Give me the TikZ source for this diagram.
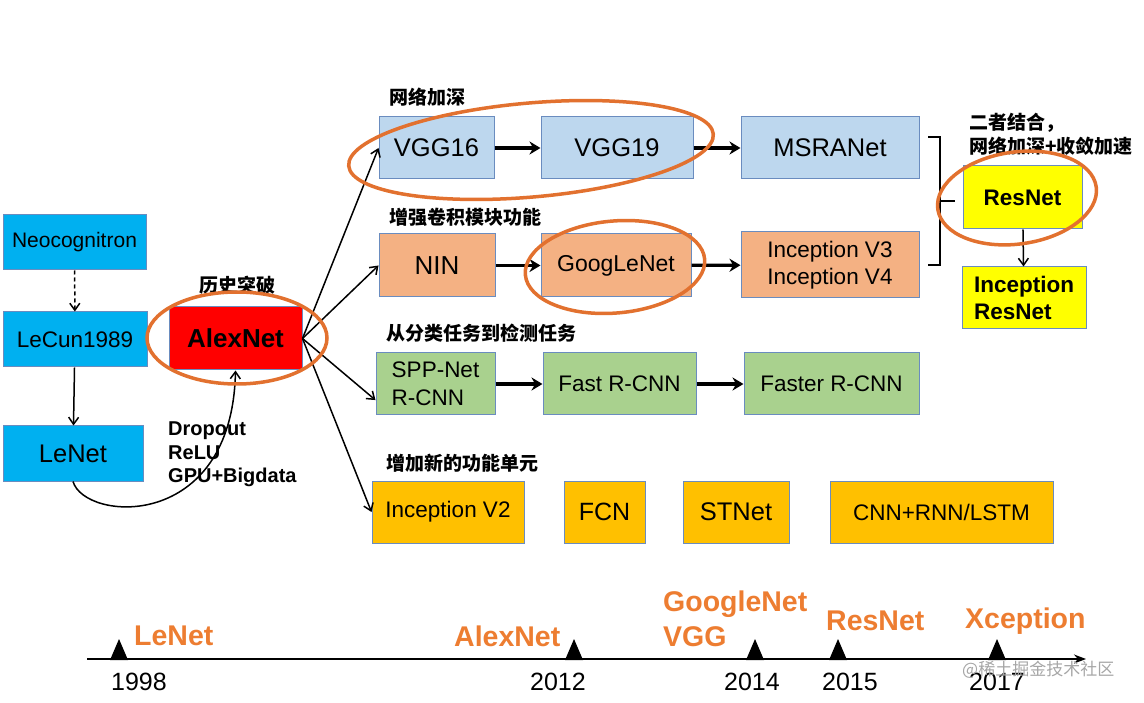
\documentclass[tikz,border=0pt]{standalone}
\usepackage{fontspec}
\setmainfont{Liberation Sans}
\newfontfamily\cjk{Noto Sans CJK SC}
\usetikzlibrary{arrows.meta}
\definecolor{cyanbox}{HTML}{00B0F0}
\definecolor{bluebox}{HTML}{BDD7EE}
\definecolor{salmonbox}{HTML}{F4B183}
\definecolor{greenbox}{HTML}{A9D18E}
\definecolor{goldbox}{HTML}{FFC000}
\definecolor{yellowbox}{HTML}{FFFF00}
\definecolor{redbox}{HTML}{FF0000}
\definecolor{ringorange}{HTML}{E2712F}
\definecolor{edgeline}{HTML}{6A8CBF}
\definecolor{yearorange}{HTML}{ED7D31}
\begin{document}
\begin{tikzpicture}
[x=1pt, y=-1pt,
  boxdecorate/.style={draw=edgeline, line width=1pt, inner sep=3pt, align=left, text=black},
  labeldecorate/.style={font=\cjk\bfseries\fontsize{19}{22}\selectfont, anchor=west, inner sep=0pt},
  heavydecorate/.style={-{Stealth[length=11pt,width=13pt]}, line width=3.2pt},
  thindecorate/.style={-{Straight Barb[length=7pt,width=10pt]}, line width=1.5pt},
  ringdecorate/.style={draw=ringorange, line width=3.5pt},
  yeardecorate/.style={font=\fontsize{25}{28}\selectfont, inner sep=0pt},
  namedecorate/.style={font=\bfseries\fontsize{28.5}{35}\selectfont, text=yearorange,
    anchor=west, align=left, inner sep=0pt}]
\useasboundingbox (0,0) rectangle (1144,703);
%% boxes
\foreach \nodename/\x/\y/\w/\h/\colour/\fs/\txt in {
  neo/74.5/242.5/143/55/cyanbox/21/Neocognitron,
  lecun/75/339.5/144/55/cyanbox/22.5/LeCun1989,
  lenet/73/453.5/140/55/cyanbox/25.5/LeNet,
  alex/235.5/338.5/133/63/redbox/26/{\bfseries AlexNet},
  vgg16/436.5/148/115/62/bluebox/25.5/VGG16,
  vgg19/617/148/152/62/bluebox/25.5/VGG19,
  msra/830/148/178/62/bluebox/25.5/MSRANet,
  nin/437/265.5/116/63/salmonbox/26/NIN,
  goog/616/265.5/150/63/salmonbox/23/GoogLeNet,
  incep34/830/265/178/66/salmonbox/22.5/{Inception V3\\Inception V4},
  resnet/1022.5/197.5/119/63/yellowbox/22.5/{\bfseries ResNet},
  incres/1024/298/124/62/yellowbox/22.5/{\bfseries Inception\\\bfseries ResNet},
  spp/435.5/384/119/62/greenbox/22.5/{SPP-Net\\R-CNN},
  fast/619.5/384/153/62/greenbox/22.5/Fast R-CNN,
  faster/831.5/384/175/62/greenbox/22.5/Faster R-CNN,
  incep2/448/512/152/62/goldbox/22.5/Inception V2,
  fcn/604.5/512/81/62/goldbox/25/FCN,
  stnet/736/512/106/62/goldbox/25.5/STNet,
  cnnrnn/941.5/512/223/62/goldbox/22.5/{CNN+RNN/LSTM}}
{
  \node (\nodename) at (\x,\y) [boxdecorate, fill=\colour, minimum width=\w pt,
    minimum height=\h pt, font=\fontsize{\fs}{27.5}\selectfont] {\txt};
}
%% captions
\node (breakthrough) at (237,285) [labeldecorate, anchor=center] {历史突破};
\node (deeper) at (389,97) [labeldecorate] {网络加深};
\node (stronger) at (389,217) [labeldecorate] {增强卷积模块功能};
\node (detect) at (386,333) [labeldecorate] {从分类任务到检测任务};
\node (newunit) at (386,463) [labeldecorate] {增加新的功能单元};
\node (combine) at (969,123) [labeldecorate] {二者结合，};
\node (combine2) at (969,146) [labeldecorate] {网络加深+收敛加速};
\node (tricks) at (168,422) [anchor=north west, align=left, inner sep=0pt,
  font=\bfseries\fontsize{20}{23.5}\selectfont] {Dropout\\ReLU\\GPU+Bigdata};
%% edges
\path
\foreach \startnode/\endnode in {vgg16/vgg19, vgg19/msra, nin/goog,
  goog/incep34, spp/fast, fast/faster}
{
  (\startnode) edge[heavydecorate] (\endnode)
};
\path
\foreach \endnode in {vgg16.west, nin.west, spp.195, incep2.west}
{
  (alex.east) edge[thindecorate] (\endnode)
};
\draw[thindecorate, dash pattern=on 4pt off 3pt] (neo) -- (lecun);
\draw[thindecorate] (lecun) -- (lenet);
\draw[thindecorate] (resnet) -- (incres);
\draw[thindecorate] (lenet.south) .. controls (85,522) and (232,532) .. (alex.south);
%% bracket
\draw[line width=2pt] (928,137) -- (940,137) -- (940,265) -- (928,265);
\draw[line width=2pt] (940,201) -- (955,201);
%% rings
\draw[ringdecorate] (237,338) ellipse [x radius=90pt, y radius=46pt];
\draw[ringdecorate, rotate around={5:(531,150)}] (531,150) ellipse [x radius=183pt, y radius=47pt];
\draw[ringdecorate, rotate around={5:(615,267)}] (615,267) ellipse [x radius=90pt, y radius=46pt];
\draw[ringdecorate, rotate around={8:(1017,198)}] (1017,198) ellipse [x radius=80pt, y radius=46pt];
%% timeline
\coordinate (axisstart) at (87,659);
\coordinate (axisend) at (1086,659);
\draw[-{Stealth[length=12pt,width=9pt]}, line width=1.5pt] (axisstart) -- (axisend);
\foreach \x in {119,574,755,838,997}
{
  \fill (\x-9,660) -- (\x+9,660) -- (\x,639) -- cycle;
}
\foreach \yearname/\x in {1998/139, 2012/558, 2014/752, 2015/850, 2017/997}
{
  \node (y\yearname) at (\x,682) [yeardecorate] {\yearname};
}
\node (tlenet) at (134,636) [namedecorate] {LeNet};
\node (talex) at (454,636) [namedecorate] {AlexNet};
\node (tgoog) at (663,619) [namedecorate] {GoogleNet\\VGG};
\node (tres) at (826,621) [namedecorate] {ResNet};
\node (txcep) at (965,621) [namedecorate] {Xception};
\node (mark) at (962,670) [anchor=west, inner sep=0pt, text=black!35,
  font=\cjk\fontsize{17}{20}\selectfont] {@稀土掘金技术社区};
\end{tikzpicture}
\end{document}
